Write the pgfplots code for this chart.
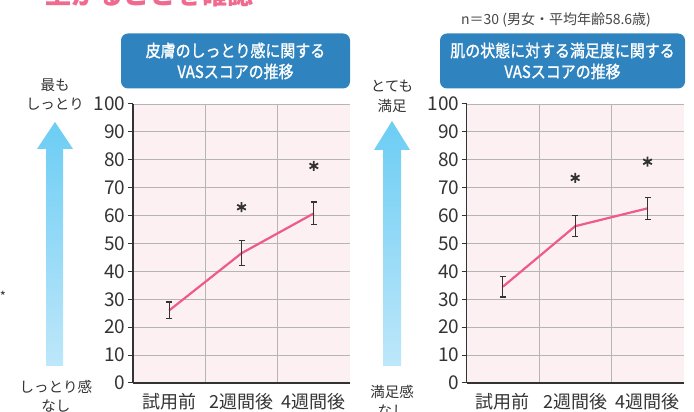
\documentclass[border=0pt]{standalone}
\usepackage{fontspec}
\usepackage{pgfplots}
\pgfplotsset{compat=1.18}
\setmainfont{Noto Sans CJK JP}
\newfontfamily\boxfont[FakeStretch=0.88,FakeBold=1.2]{Noto Sans CJK JP}

\definecolor{bgpink}{HTML}{FCF0F3}
\definecolor{gridgray}{HTML}{B5B5B5}
\definecolor{axisdark}{HTML}{333333}
\definecolor{linepink}{HTML}{EE5A8C}
\definecolor{boxblue}{HTML}{2F84BF}
\definecolor{arrowtop}{HTML}{6CCDF4}
\definecolor{arrowbot}{HTML}{BEE7FA}
\definecolor{titlepink}{HTML}{F0698F}

\pgfplotsset{
  vas/.style={
    scale only axis,
    width=217pt, height=279pt,
    anchor=south west,
    xmin=0, xmax=3, ymin=0, ymax=100,
    axis x line=bottom, axis y line=left,
    axis line style={-, draw=axisdark, line width=1.1pt},
    axis background/.style={fill=bgpink},
    xtick={0.5,1.5,2.5},
    xticklabels={試用前,2週間後,4週間後},
    minor xtick={1,2},
    xminorgrids=true,
    x tick style={draw=none},
    minor x tick style={draw=none},
    ytick={0,10,...,100},
    ymajorgrids=true,
    grid style={draw=gridgray, line width=0.8pt},
    minor grid style={draw=gridgray, line width=0.8pt},
    tick align=outside,
    y tick style={draw=axisdark, line width=1pt},
    major tick length=5pt,
    yticklabel style={font=\fontsize{19}{19}\selectfont, text=axisdark, xshift=1pt},
    xticklabel style={font=\fontsize{18}{18}\selectfont, text=axisdark, yshift=-2pt},
    /pgf/number format/assume math mode=true,
    clip=false,
  },
  meanline/.style={draw=linepink, line width=2.2pt, mark=none},
  ebar/.style={draw=none, mark=none,
    error bars/.cd, y dir=both, y explicit,
    error bar style={draw=axisdark, line width=1.2pt},
    error mark options={rotate=90, mark size=3pt, draw=axisdark, line width=1.2pt}},
  star/.style={only marks, mark=asterisk, mark size=5pt,
    mark options={draw=axisdark, line width=1.8pt}},
}

\begin{document}
\begin{tikzpicture}
\path[use as bounding box] (0,0) rectangle (694pt,412pt);

% cut-off heading at the top
\node[anchor=base west, inner sep=0pt, text=titlepink,
      font=\fontsize{26}{26}\selectfont\bfseries] at (45pt,407pt) {上がることを確認};

% stray mark at the left edge
\node[text=axisdark, font=\fontsize{13}{13}\selectfont] at (3pt,116pt) {*};

% n text
\node[text=axisdark!90, font=\fontsize{14}{14}\selectfont] at (556pt,392pt)
  {n＝30 (男女・平均年齢58.6歳)};

% title boxes
\node[fill=boxblue, rounded corners=7pt, minimum width=229pt, minimum height=55pt,
      text=white, align=center, inner sep=0pt,
      font=\fontsize{17}{21}\boxfont] at (235.5pt,351pt)
  {皮膚のしっとり感に関する\\VASスコアの推移};
\node[fill=boxblue, rounded corners=7pt, minimum width=245pt, minimum height=55pt,
      text=white, align=center, inner sep=0pt,
      font=\fontsize{17}{21}\boxfont] at (562.5pt,351pt)
  {肌の状態に対する満足度に関する\\VASスコアの推移};

% arrows
\shade[top color=arrowtop, bottom color=arrowbot]
  (46pt,46pt) -- (46pt,263pt) -- (37pt,263pt) -- (55pt,290pt) -- (73pt,263pt)
  -- (63pt,263pt) -- (63pt,46pt) -- cycle;
\shade[top color=arrowtop, bottom color=arrowbot]
  (383pt,46pt) -- (383pt,262pt) -- (374pt,262pt) -- (392pt,291pt) -- (410pt,262pt)
  -- (401pt,262pt) -- (401pt,46pt) -- cycle;

% side labels
\node[text=axisdark, align=center, font=\fontsize{14.5}{19}\selectfont] at (55pt,317pt)
  {最も\\しっとり};
\node[text=axisdark, align=center, font=\fontsize{14.5}{19}\selectfont] at (56pt,16pt)
  {しっとり感\\なし};
\node[text=axisdark, align=center, font=\fontsize{14.5}{20}\selectfont] at (392pt,316pt)
  {とても\\満足};
\node[text=axisdark, align=center, font=\fontsize{14.5}{19}\selectfont] at (392pt,11pt)
  {満足感\\なし};

% left panel
\begin{axis}[vas, at={(133pt,29pt)}]
  \addplot[meanline] coordinates {(0.5,26) (1.5,46.5) (2.5,60.8)};
  \addplot[ebar] coordinates {
    (0.5,26) +- (0,3)
    (1.5,46.5) +- (0,4.5)
    (2.5,60.8) +- (0,4.1)
  };
  \addplot[star] coordinates {(1.5,63) (2.5,77.8)};
\end{axis}

% right panel
\begin{axis}[vas, at={(466.7pt,29pt)}]
  \addplot[meanline] coordinates {(0.5,34.5) (1.5,56.2) (2.5,62.6)};
  \addplot[ebar] coordinates {
    (0.5,34.5) +- (0,3.7)
    (1.5,56.2) +- (0,3.7)
    (2.5,62.6) +- (0,3.9)
  };
  \addplot[star] coordinates {(1.5,73.5) (2.5,79.3)};
\end{axis}
\end{tikzpicture}
\end{document}
